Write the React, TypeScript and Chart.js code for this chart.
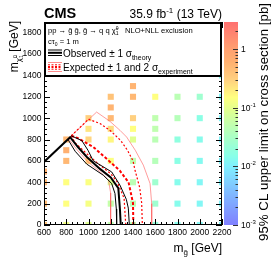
import { useEffect, useRef } from 'react';
import { Chart, registerables } from 'chart.js';
Chart.register(...registerables);

const FONT = '"Liberation Sans", Arial, sans-serif';

// ---- axis ticks ----
const xTicks = [600, 800, 1000, 1200, 1400, 1600, 1800, 2000, 2200];
const yTicks = [0, 200, 400, 600, 800, 1000, 1200, 1400, 1600, 1800];
const zTicks = [0.001, 0.01, 0.1, 1];
const zTickBase = ['10', '10', '10', '1'];
const zTickExp = ['-3', '-2', '-1', ''];

// ---- grid of signal points: gluino mass, neutralino mass, upper limit [pb] ----
const gridGluino = [
  600, 600, 600, 600,
  800, 800, 800, 800, 800, 800,
  1000, 1000, 1000, 1000, 1000, 1000, 1000,
  1200, 1200, 1200, 1200, 1200, 1200, 1200, 1200, 1200,
  1400, 1400, 1400, 1400, 1400, 1400, 1400, 1400, 1400,
  1600, 1600, 1600, 1600, 1600, 1600, 1600, 1600,
  1800, 1800, 1800, 1800, 1800, 1800, 1800,
  2000, 2000, 2000, 2000, 2000, 2000, 2000,
  2200, 2200, 2200, 2200, 2200, 2200, 2200, 2200,
];
const gridNeutralino = [
  0, 200, 400, 500,
  0, 200, 400, 600, 700, 800,
  0, 200, 400, 600, 800, 900, 1000,
  0, 200, 400, 600, 800, 900, 1000, 1100, 1200,
  0, 200, 400, 600, 800, 900, 1000, 1200, 1300,
  0, 200, 400, 600, 800, 900, 1000, 1200,
  0, 200, 400, 600, 800, 1000, 1200,
  0, 200, 400, 600, 800, 1000, 1200,
  0, 200, 400, 600, 800, 1000, 1200, 1400,
];
const gridLimit = [
  0.4, 0.45, 0.5, 0.6,
  0.12, 0.15, 0.15, 0.5, 0.6, 0.5,
  0.09, 0.13, 0.14, 0.3, 0.28, 0.22, 0.3,
  0.05, 0.055, 0.08, 0.14, 0.17, 0.25, 0.5, 0.55, 0.4,
  0.045, 0.045, 0.045, 0.05, 0.09, 0.15, 0.3, 0.5, 0.55,
  0.02, 0.025, 0.025, 0.04, 0.045, 0.05, 0.05, 0.15,
  0.014, 0.014, 0.014, 0.016, 0.018, 0.04, 0.045,
  0.012, 0.012, 0.012, 0.013, 0.014, 0.016, 0.025,
  0.011, 0.011, 0.011, 0.011, 0.011, 0.011, 0.012, 0.012,
];

// ---- exclusion contours [m_gluino, m_neutralino] ----
const observed = [[600, 590], [835, 822], [905, 730], [985, 637], [1103, 525], [1200, 445], [1268, 345], [1283, 140], [1290, 0]];
const observedPlus = [[845, 835], [940, 790], [995, 700], [1043, 600], [1140, 540], [1208, 497], [1283, 373], [1340, 240], [1358, 158], [1367, 0]];
const observedMinus = [[815, 802], [880, 690], [984, 570], [1133, 466], [1208, 389], [1238, 295], [1250, 150], [1253, 0]];
const expected = [[845, 835], [900, 815], [1043, 730], [1163, 620], [1280, 510], [1360, 400], [1400, 205], [1403, 0]];
const expectedMinus1 = [[845, 835], [879, 770], [1013, 640], [1103, 560], [1200, 480], [1260, 400], [1320, 250], [1335, 0]];
const expectedPlus1 = [[845, 835], [1000, 990], [1103, 950], [1200, 880], [1290, 790], [1350, 700], [1400, 600], [1418, 514], [1460, 350], [1478, 205], [1484, 0]];
const expectedMinus2 = [[820, 808], [900, 700], [996, 590], [1103, 500], [1180, 420], [1199, 300], [1200, 150], [1198, 0]];
const expectedPlus2 = [[845, 835], [1073, 1057], [1193, 970], [1283, 886], [1343, 823], [1420, 700], [1493, 560], [1553, 389], [1568, 200], [1568, 0]];

// palette stops (value -> rgb)
const paletteStops: [number, number[]][] = [
  [1e-3, [128, 128, 255]],
  [4e-3, [128, 192, 255]],
  [1e-2, [128, 240, 255]],
  [1.5e-2, [136, 255, 232]],
  [3e-2, [168, 255, 200]],
  [5e-2, [192, 255, 176]],
  [9e-2, [224, 255, 144]],
  [0.15, [255, 255, 128]],
  [0.3, [255, 208, 128]],
  [0.6, [255, 176, 112]],
  [1, [255, 160, 112]],
  [2.9, [255, 112, 112]],
];

function colorFor(v: number): string {
  const lv = Math.log10(v);
  for (let i = 0; i < paletteStops.length - 1; i++) {
    const a = paletteStops[i], b = paletteStops[i + 1];
    const la = Math.log10(a[0]), lb = Math.log10(b[0]);
    if (lv <= lb || i === paletteStops.length - 2) {
      let t = (lv - la) / (lb - la);
      t = Math.max(0, Math.min(1, t));
      const c = a[1].map((ca, k) => Math.round(ca + (b[1][k] - ca) * t));
      return `rgb(${c[0]},${c[1]},${c[2]})`;
    }
  }
  return 'rgb(255,112,112)';
}

const toXY = (arr: number[][]) => arr.map(([x, y]) => ({ x, y }));

type Part = { t: string; s: number; dy?: number; w?: string; adv?: boolean };
function drawRich(ctx: CanvasRenderingContext2D, x: number, y: number, parts: Part[], align: 'left' | 'right' = 'left') {
  let total = 0;
  for (const p of parts) {
    ctx.font = `${p.w || ''} ${p.s}px ${FONT}`;
    if (p.adv !== false) total += ctx.measureText(p.t).width;
  }
  let cx = align === 'right' ? x - total : x;
  for (const p of parts) {
    ctx.font = `${p.w || ''} ${p.s}px ${FONT}`;
    ctx.fillText(p.t, cx, y + (p.dy || 0));
    if (p.adv !== false) cx += ctx.measureText(p.t).width;
  }
  return total;
}

const decorPlugin = {
  id: 'decor',
  afterDatasetsDraw(chart: any) {
    const ctx: CanvasRenderingContext2D = chart.ctx;
    const xs = chart.scales.x, ys = chart.scales.y, zs = chart.scales.z;
    const area = chart.chartArea;
    const L = area.left, R = area.right, T = area.top, B = area.bottom;
    ctx.save();
    ctx.fillStyle = '#000';
    ctx.strokeStyle = '#000';
    ctx.textBaseline = 'alphabetic';

    // frame
    ctx.lineWidth = 1;
    ctx.strokeRect(L + 0.5, T + 0.5, R - L - 1, B - T - 1);

    // ticks
    ctx.beginPath();
    for (let v = xs.min; v <= xs.max + 1e-6; v += 50) {
      const px = Math.round(xs.getPixelForValue(v)) + 0.5;
      const len = (v % 200 === 0) ? 6 : 3;
      ctx.moveTo(px, B); ctx.lineTo(px, B - len);
      ctx.moveTo(px, T); ctx.lineTo(px, T + len);
    }
    for (let v = 0; v <= ys.max + 1e-6; v += 50) {
      const py = Math.round(ys.getPixelForValue(v)) + 0.5;
      const len = (v % 200 === 0) ? 6 : 3;
      ctx.moveTo(L, py); ctx.lineTo(L + len, py);
      ctx.moveTo(R, py); ctx.lineTo(R - len, py);
    }
    ctx.stroke();

    // tick labels
    ctx.font = `8.5px ${FONT}`;
    ctx.textAlign = 'center';
    ctx.textBaseline = 'middle';
    xTicks.forEach((v) => ctx.fillText(String(v), xs.getPixelForValue(v), 233));
    ctx.textAlign = 'right';
    yTicks.forEach((v) => ctx.fillText(String(v), L - 2.5, ys.getPixelForValue(v)));

    // colour bar
    const cbL = 224, cbR = 238;
    const zt = zs.top, zb = zs.bottom;
    for (let py = Math.floor(zt); py < zb; py++) {
      const v = zs.getValueForPixel(py + 0.5);
      ctx.fillStyle = colorFor(v);
      ctx.fillRect(cbL, py, cbR - cbL, 1);
    }
    ctx.strokeStyle = '#333';
    ctx.lineWidth = 1;
    ctx.beginPath();
    for (let e = -3; e <= 0; e++) {
      for (let k = 1; k <= 9; k++) {
        const v = k * Math.pow(10, e);
        if (v > zs.max) break;
        const py = Math.round(zs.getPixelForValue(v)) + 0.5;
        const len = k === 1 ? 5 : 2.5;
        ctx.moveTo(cbR, py); ctx.lineTo(cbR - len, py);
      }
    }
    ctx.stroke();
    ctx.fillStyle = '#000';
    ctx.textAlign = 'left';
    ctx.textBaseline = 'alphabetic';
    zTicks.forEach((v, i) => {
      const py = zs.getPixelForValue(v);
      const parts: Part[] = [{ t: zTickBase[i], s: 8.5 }];
      if (zTickExp[i]) parts.push({ t: zTickExp[i], s: 6, dy: -4 });
      drawRich(ctx, 241, py + 3, parts);
    });

    // colour bar title
    ctx.save();
    ctx.translate(268, 3);
    ctx.rotate(-Math.PI / 2);
    drawRich(ctx, 0, 0, [{ t: '95% CL upper limit on cross section [pb]', s: 13.3 }], 'right');
    ctx.restore();

    // y-axis title
    ctx.save();
    ctx.translate(18, 21);
    ctx.rotate(-Math.PI / 2);
    drawRich(ctx, 0, 0, [
      { t: 'm', s: 12 },
      { t: '\u03C7\u0303', s: 8, dy: 3 },
      { t: '1', s: 5.5, dy: 5, adv: false },
      { t: '0', s: 5.5, dy: -1 },
      { t: ' [GeV]', s: 12 },
    ], 'right');
    ctx.restore();

    // x-axis title
    drawRich(ctx, R, 252, [
      { t: 'm', s: 12 },
      { t: 'g\u0303', s: 8, dy: 3 },
      { t: ' [GeV]', s: 12 },
    ], 'right');

    // top labels
    drawRich(ctx, L, 18, [{ t: 'CMS', s: 14.5, w: 'bold' }]);
    drawRich(ctx, R, 18, [
      { t: '35.9 fb', s: 12 },
      { t: '-1', s: 8, dy: -5 },
      { t: ' (13 TeV)', s: 12 },
    ], 'right');

    // legend box
    const lgB = 77;
    ctx.fillStyle = '#fff';
    ctx.fillRect(L, T, R - L, lgB - T);
    ctx.strokeStyle = '#000';
    ctx.lineWidth = 2;
    ctx.strokeRect(L + 1, T + 1, R - L - 2, lgB - T - 2);
    ctx.fillStyle = '#000';

    drawRich(ctx, 48, 33, [
      { t: 'pp \u2192 g\u0303 g\u0303, g\u0303 \u2192 q q \u03C7\u0303', s: 7.6 },
      { t: '1', s: 5, dy: 1.5, adv: false },
      { t: '0', s: 5, dy: -3 },
    ]);
    drawRich(ctx, 125, 33, [{ t: 'NLO+NLL exclusion', s: 7.6 }]);
    drawRich(ctx, 48, 44, [
      { t: 'c\u03C4', s: 7.6 },
      { t: '0', s: 5, dy: 1.5 },
      { t: ' = 1 m', s: 7.6 },
    ]);

    // observed symbol
    ctx.strokeStyle = '#000';
    ctx.setLineDash([]);
    ctx.lineWidth = 1;
    ctx.beginPath();
    ctx.moveTo(48, 50); ctx.lineTo(62, 50);
    ctx.moveTo(48, 55.5); ctx.lineTo(62, 55.5);
    ctx.stroke();
    ctx.lineWidth = 2;
    ctx.beginPath();
    ctx.moveTo(48, 52.8); ctx.lineTo(62, 52.8);
    ctx.stroke();
    drawRich(ctx, 63, 57, [
      { t: 'Observed \u00B1 1 \u03C3', s: 10 },
      { t: 'theory', s: 7, dy: 2.5 },
    ]);

    // expected symbol
    ctx.lineWidth = 1;
    ctx.strokeStyle = 'rgba(255,90,90,0.7)';
    ctx.beginPath();
    ctx.moveTo(48, 62.5); ctx.lineTo(62, 62.5);
    ctx.moveTo(48, 71.5); ctx.lineTo(62, 71.5);
    ctx.stroke();
    ctx.strokeStyle = '#ff0000';
    ctx.setLineDash([2, 1.5]);
    ctx.beginPath();
    ctx.moveTo(48, 64.8); ctx.lineTo(62, 64.8);
    ctx.moveTo(48, 69.2); ctx.lineTo(62, 69.2);
    ctx.stroke();
    ctx.lineWidth = 2;
    ctx.beginPath();
    ctx.moveTo(48, 67); ctx.lineTo(62, 67);
    ctx.stroke();
    ctx.setLineDash([]);
    drawRich(ctx, 63, 71, [
      { t: 'Expected \u00B1 1 and 2 \u03C3', s: 10 },
      { t: 'experiment', s: 7, dy: 2.5 },
    ]);

    ctx.restore();
  },
};

export default function App() {
  const ref = useRef<HTMLCanvasElement>(null);
  useEffect(() => {
    document.body.style.margin = '0';
    const canvas = ref.current!;
    const lineDs = (data: number[][], color: string, width: number, dash: number[]) => ({
      data: toXY(data),
      showLine: true,
      pointRadius: 0,
      borderColor: color,
      borderWidth: width,
      borderDash: dash,
      fill: false,
      tension: 0,
      clip: 0,
    });
    const chart = new Chart(canvas, {
      type: 'scatter',
      data: {
        datasets: [
          lineDs(observed, '#000', 2, []),
          lineDs(observedPlus, '#000', 1, []),
          lineDs(observedMinus, '#000', 1, []),
          lineDs(expected, '#ff0000', 2, [3, 2]),
          lineDs(expectedPlus1, '#ff0000', 1.2, [2, 2]),
          lineDs(expectedMinus1, '#ff0000', 1.2, [2, 2]),
          lineDs(expectedPlus2, 'rgba(255,90,90,0.6)', 1, []),
          lineDs(expectedMinus2, 'rgba(255,90,90,0.6)', 1, []),
          {
            data: gridGluino.map((g, i) => ({ x: g, y: gridNeutralino[i] })),
            pointStyle: 'rect',
            pointRadius: 4.3,
            pointBorderWidth: 0,
            borderWidth: 0,
            backgroundColor: gridLimit.map((v) => colorFor(v)),
            pointBackgroundColor: gridLimit.map((v) => colorFor(v)),
            clip: 0,
          } as any,
        ] as any,
      },
      options: {
        animation: false,
        responsive: false,
        events: [],
        layout: { padding: { left: 44, right: 52, top: 22, bottom: 38 } },
        plugins: { legend: { display: false }, tooltip: { enabled: false } },
        scales: {
          x: { type: 'linear', min: 600, max: 2200, display: false },
          y: { type: 'linear', min: 0, max: 1900, display: false },
          z: { type: 'logarithmic', axis: 'y', position: 'right', min: 0.001, max: 2.9, display: false },
        },
      } as any,
      plugins: [decorPlugin],
    });
    return () => chart.destroy();
  }, []);
  return (
    <div style={{ width: 274, height: 263 }}>
      <canvas ref={ref} width={274} height={263} style={{ display: 'block', width: 274, height: 263 }} />
    </div>
  );
}
